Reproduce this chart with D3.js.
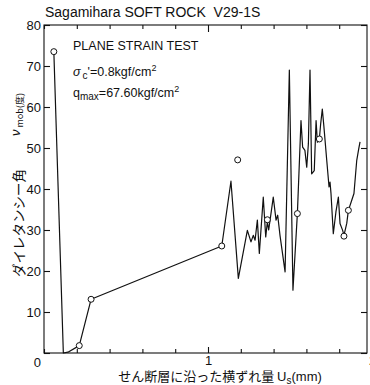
<!DOCTYPE html>
<html>
<head>
<meta charset="utf-8">
<script src="https://cdn.jsdelivr.net/npm/d3@7"></script>
<style>
	body { margin: 0; background: #fff; }
	svg { display: block; }
	text { font-family: "Liberation Sans", Arial, sans-serif; fill: #111; }
	.jp { font-family: "Noto Sans CJK JP", sans-serif; }
</style>
</head>
<body>
<div id="chart"></div>
<script>

// continuous trace: slip along shear band Us (mm) vs mobilized dilatancy angle (deg)
const slipUs = [0.060, 0.118, 0.146, 0.215, 0.287, 1.084, 1.140, 1.185, 1.240, 1.262,
	1.276, 1.287, 1.301, 1.313, 1.337, 1.352, 1.362, 1.370, 1.384, 1.398,
	1.415, 1.425, 1.439, 1.470, 1.496, 1.518, 1.545, 1.567, 1.577, 1.591,
	1.602, 1.612, 1.622, 1.632, 1.648, 1.659, 1.667, 1.679, 1.687, 1.697,
	1.707, 1.724, 1.738, 1.744, 1.750, 1.764, 1.780, 1.795, 1.805, 1.821,
	1.829, 1.846, 1.856, 1.876, 1.890, 1.907, 1.919, 1.927];
const dilation = [73.5, 0, 0.2, 1.8, 13.1, 26.1, 41.9, 18.2, 29.9, 27.1,
	28.7, 27.5, 32.4, 24.3, 38.0, 28.3, 32.0, 30.0, 34.0, 38.0,
	32.4, 33.6, 28.7, 19.8, 69.0, 15.3, 34.0, 56.7, 50.2, 49.4,
	45.3, 51.0, 69.0, 43.7, 44.5, 56.7, 51.4, 52.2, 55.9, 59.5,
	55.1, 47.0, 40.5, 41.7, 38.9, 29.1, 34.4, 38.0, 31.6, 29.9,
	28.7, 31.6, 34.8, 37.2, 38.9, 47.0, 49.8, 51.5];

// discrete readings (open circles)
const pointUs = [0.060, 0.215, 0.287, 1.084, 1.181, 1.362, 1.545, 1.679, 1.829, 1.856];
const pointNu = [73.5, 1.8, 13.1, 26.1, 47.1, 32.5, 34.0, 52.2, 28.5, 34.8];

const yTicks = [0, 10, 20, 30, 40, 50, 60, 70, 80];
const xMinor = d3.range(0, 2.01, 0.2);
const xLabels = [1, 2];

const W = 370, H = 385;
const margin = {t:25, l:44, b:32};
const plotRight = 367;

const svg = d3.select('#chart').append('svg')
	.attr('width', W)
	.attr('height', H);

const x = d3.scaleLinear().domain([0, 2]).range([margin.l, 372]);
const y = d3.scaleLinear().domain([0, 80]).range([H - margin.b, margin.t]);

const ink = '#111';

// frame
svg.append('rect')
	.attr('x', margin.l)
	.attr('y', margin.t)
	.attr('width', plotRight - margin.l)
	.attr('height', y(0) - margin.t)
	.attr('fill', 'none')
	.attr('stroke', ink)
	.attr('stroke-width', 1.1);

const axisStyle = g => {
	g.select('.domain').remove();
	g.selectAll('.tick line').attr('stroke', ink).attr('stroke-width', 1.1);
	g.selectAll('.tick text')
		.attr('fill', ink)
		.style('font-family', '"Liberation Sans", Arial, sans-serif')
		.style('font-size', '13px');
};

// left axis: labels 10..80, the 0 sits a bit lower at the corner
svg.append('g')
	.attr('transform', `translate(${margin.l},0)`)
	.call(d3.axisLeft(y).tickValues(yTicks).tickSizeInner(-6).tickPadding(3).tickFormat(d3.format('d')))
	.call(axisStyle)
	.call(g => g.selectAll('.tick').filter(d => d === 0).select('text').attr('dy', '1.05em'));

// right axis, ticks only
svg.append('g')
	.attr('transform', `translate(${plotRight},0)`)
	.call(d3.axisRight(y).tickValues(yTicks).tickSizeInner(-6).tickFormat(''))
	.call(axisStyle);

// bottom axis
svg.append('g')
	.attr('transform', `translate(0,${y(0)})`)
	.call(d3.axisBottom(x).tickValues(xMinor).tickSizeInner(-4).tickPadding(3)
		.tickFormat(d => xLabels.includes(Math.round(d * 10) / 10) ? d3.format('d')(d) : ''))
	.call(axisStyle)
	.call(g => g.selectAll('.tick').filter(d => Math.abs(d - 1) < 1e-6).select('line').attr('y2', -6));

// top axis, ticks only
svg.append('g')
	.attr('transform', `translate(0,${margin.t})`)
	.call(d3.axisTop(x).tickValues(xMinor).tickSizeInner(-4).tickFormat(''))
	.call(axisStyle)
	.call(g => g.selectAll('.tick').filter(d => Math.abs(d - 1) < 1e-6).select('line').attr('y2', 7));

// trace
const traceData = slipUs.map((d, i) => [d, dilation[i]]);
const line = d3.line().x(d => x(d[0])).y(d => y(d[1]));

svg.append('path')
	.datum(traceData)
	.attr('d', line)
	.attr('fill', 'none')
	.attr('stroke', ink)
	.attr('stroke-width', 1.2)
	.attr('stroke-linejoin', 'round');

svg.selectAll('circle.pt')
	.data(pointUs.map((d, i) => [d, pointNu[i]]))
	.enter()
	.append('circle')
	.attr('class', 'pt')
	.attr('cx', d => x(d[0]))
	.attr('cy', d => y(d[1]))
	.attr('r', 3)
	.attr('fill', '#fff')
	.attr('stroke', ink)
	.attr('stroke-width', 1);

// title
svg.append('text')
	.attr('x', 45)
	.attr('y', 17)
	.style('font-size', '14px')
	.style('white-space', 'pre')
	.text('Sagamihara SOFT ROCK  V29-1S');

// notes in the plot
const note = svg.append('g').style('font-size', '12.5px');
note.append('text').attr('x', 73).attr('y', 50).text('PLANE STRAIN TEST');

const s1 = note.append('text').attr('x', 73).attr('y', 76);
s1.append('tspan').style('font-style', 'italic').text('σ');
s1.append('tspan').attr('dx', 2).attr('dy', 3).style('font-size', '10px').text('c');
s1.append('tspan').attr('dy', -3).text("'=0.8kgf/cm");
s1.append('tspan').attr('dy', -5).style('font-size', '9px').text('2');

const s2 = note.append('text').attr('x', 73).attr('y', 97);
s2.append('tspan').text('q');
s2.append('tspan').attr('dy', 3).style('font-size', '10px').text('max');
s2.append('tspan').attr('dy', -3).text('=67.60kgf/cm');
s2.append('tspan').attr('dy', -5).style('font-size', '9px').text('2');

// y label (rotated), sits left of the tick numbers
svg.append('text')
	.attr('class', 'jp')
	.attr('transform', 'translate(24,277) rotate(-90)')
	.style('font-size', '13.5px')
	.text('ダイレタンシー角');

const yl = svg.append('text')
	.attr('transform', 'translate(20,136) rotate(-90)')
	.style('font-size', '13px');
yl.append('tspan').style('font-style', 'italic').text('ν');
yl.append('tspan').attr('class', 'jp').attr('dx', 2).attr('dy', 3).style('font-size', '9px').text('mob(度)');

// x label
const xl = svg.append('text')
	.attr('x', 220)
	.attr('y', 380.5)
	.attr('text-anchor', 'middle')
	.style('font-size', '13px');
xl.append('tspan').attr('class', 'jp').text('せん断層に沿った横ずれ量 ');
xl.append('tspan').text('U');
xl.append('tspan').attr('dy', 3).style('font-size', '10px').text('s');
xl.append('tspan').attr('dy', -3).text('(mm)');

</script>
</body>
</html>
